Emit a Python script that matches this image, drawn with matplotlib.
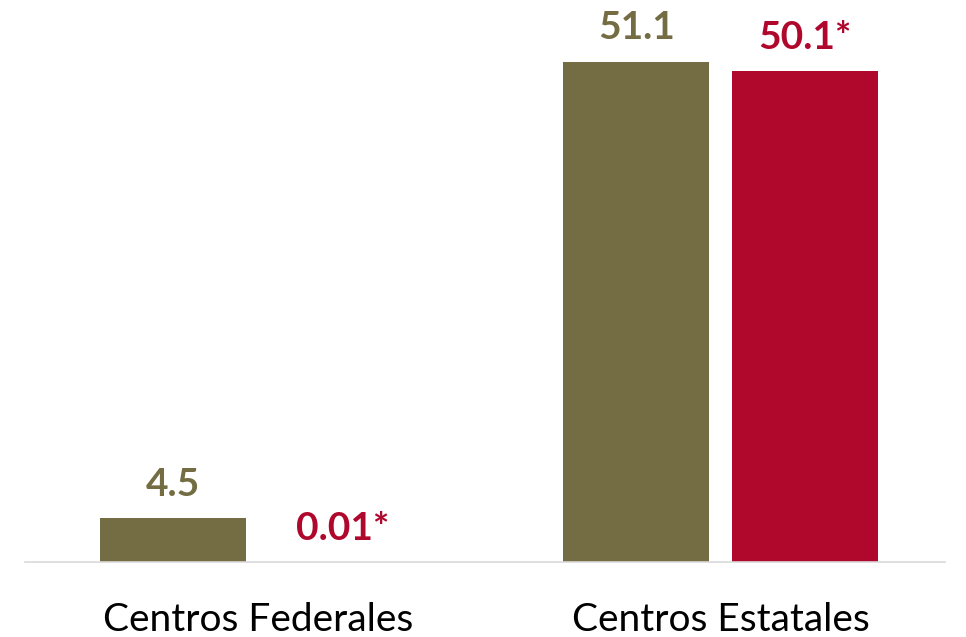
import numpy as np
import matplotlib.pyplot as plt

plt.rcParams['font.family'] = ['Lato', 'DejaVu Sans']

# data
categories = ["Centros Federales", "Centros Estatales"]
serie_a = [4.5, 51.1]
serie_b = [0.01, 50.1]
labels_a = ["4.5", "51.1"]
labels_b = ["0.01*", "50.1*"]

olive = "#746C43"
red = "#B0072D"

fig = plt.figure(figsize=(9.66, 6.37), dpi=100)
ax = fig.add_axes([25 / 966, 75 / 637, 920 / 966, 562 / 637])

x = np.arange(len(categories))
w = 0.315
off = 0.1825

bars_a = ax.bar(x - off, serie_a, w, color=olive)
bars_b = ax.bar(x + off, serie_b, w, color=red)

for b, lab in zip(bars_a, labels_a):
    ax.annotate(lab, (b.get_x() + b.get_width() / 2, b.get_height()),
                xytext=(0, 16), textcoords="offset points",
                ha="center", va="baseline", fontsize=28, fontweight="bold", color=olive)
for b, lab in zip(bars_b, labels_b):
    ax.annotate(lab, (b.get_x() + b.get_width() / 2, b.get_height()),
                xytext=(0, 16), textcoords="offset points",
                ha="center", va="baseline", fontsize=28, fontweight="bold", color=red)

ax.set_xlim(-0.503, 1.484)
ax.set_ylim(0, 57.4)
ax.set_xticks(x)
ax.set_xticklabels(categories, fontsize=28)
ax.tick_params(axis="x", length=0, pad=29)
ax.set_yticks([])
for s in ["top", "left", "right"]:
    ax.spines[s].set_visible(False)
ax.spines["bottom"].set_color("#D9D9D9")
ax.spines["bottom"].set_linewidth(1.2)

fig.savefig("out.png", dpi=100)
